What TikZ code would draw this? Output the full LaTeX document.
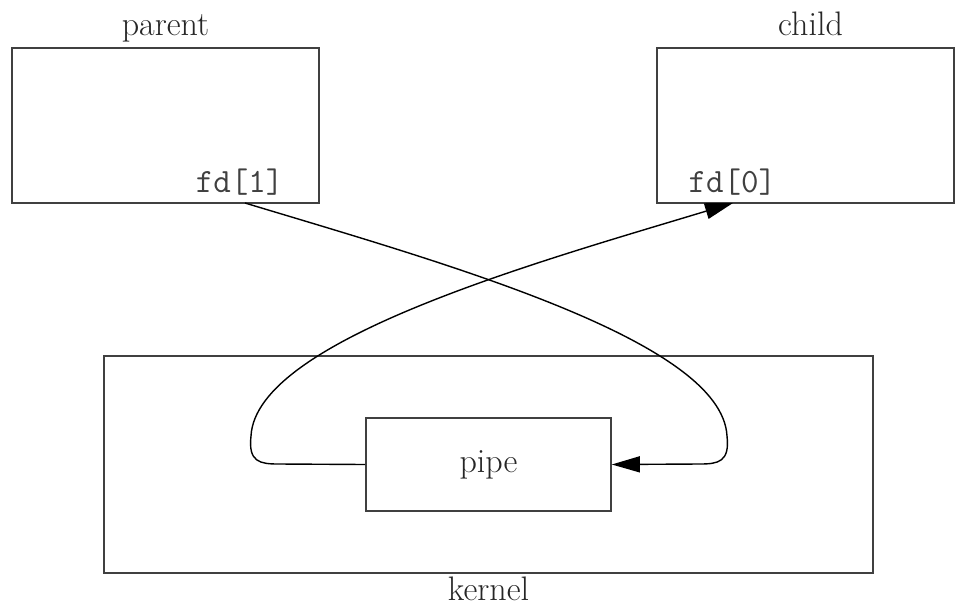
\documentclass[tikz,border=0pt]{standalone}
\usetikzlibrary{arrows.meta,positioning}

\begin{document}
\begin{tikzpicture}[x=1pt, y=-1pt,
    box/.style={draw=black!75, line width=1.6pt, inner sep=0pt},
    flow/.style={draw=black, line width=1.4pt, -{Triangle[length=28pt,width=16pt]}},
    lbl/.style={font=\fontsize{34}{40}\selectfont, text=black!85, anchor=base},
    fdtext/.style={font=\ttfamily\fontsize{34}{40}\selectfont, text=black!75}]
  % Fix the page size
  \useasboundingbox (0,0) rectangle (955,610);

  % Draw the process boxes
  \node[box, minimum width=307pt, minimum height=155pt] (parent) at (165.5,125.5) {};
  \node[box, minimum width=297pt, minimum height=155pt] (child) at (805.5,125.5) {};
  % Draw the kernel and the pipe inside it
  \node[box, minimum width=769pt, minimum height=217pt] (kernel) at (488.5,464.5) {};
  \node[box, lbl, anchor=center, minimum width=245pt, minimum height=93pt] (pipe) at (488.5,464.5) {pipe};

  % Add the labels
  \node[lbl] (parentlbl) at ([yshift=12pt]parent.north) {parent};
  \node[lbl] (childlbl) at ([xshift=5pt,yshift=12pt]child.north) {child};
  \node[lbl] (kernellbl) at ([yshift=-27pt]kernel.south) {kernel};
  \node[fdtext, anchor=base east] (fd1) at (287,192) {fd[1]};
  \node[fdtext, anchor=base west] (fd0) at (685,192) {fd[0]};

  % Ends of the connectors on the box edges
  \coordinate (fdout) at (245,203);
  \coordinate (fdin) at (733,203);

  % Write end goes into the pipe
  \draw[flow] (fdout) .. controls (440,262) and (722,340) .. (727,436)
    .. controls (730,462) and (718,464) .. (700,464) -- (pipe.east);
  % Read end comes out of the pipe
  \draw[flow] (pipe.west) -- (278,464) .. controls (260,464) and (248,462) .. (251,436)
    .. controls (256,340) and (538,262) .. (fdin);
\end{tikzpicture}
\end{document}
